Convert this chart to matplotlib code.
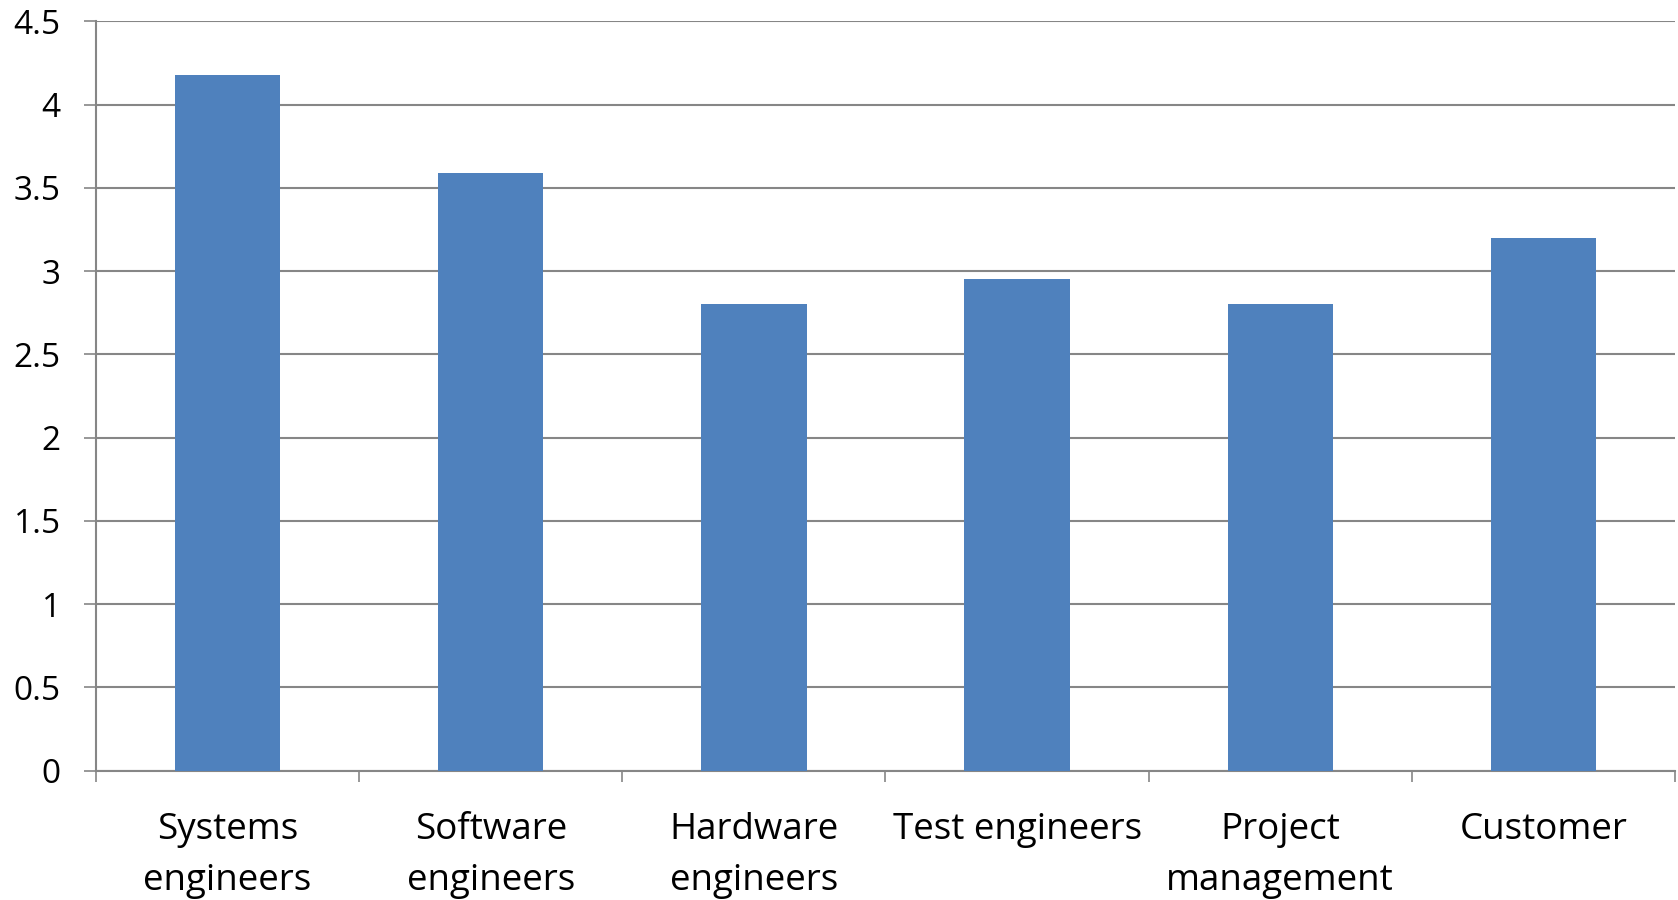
import matplotlib
matplotlib.use("Agg")
import matplotlib.pyplot as plt
import numpy as np

categories = ["Systems\nengineers", "Software\nengineers", "Hardware\nengineers",
              "Test engineers", "Project\nmanagement", "Customer"]
values = [4.18, 3.59, 2.8, 2.95, 2.8, 3.2]
yticks = [0, 0.5, 1, 1.5, 2, 2.5, 3, 3.5, 4, 4.5]
ytick_labels = ["0", "0.5", "1", "1.5", "2", "2.5", "3", "3.5", "4", "4.5"]

plt.rcParams['font.family'] = ['Open Sans', 'DejaVu Sans']

fig = plt.figure(figsize=(16.78, 9), dpi=100)
ax = fig.add_axes([96/1678, 1-770.6/900, (1675-96)/1678, (770.6-21.4)/900])

x = np.arange(len(categories))
ax.bar(x, values, width=0.4, color="#4F81BD", zorder=3)

ax.set_xlim(-0.5, len(categories)-0.5)
ax.set_ylim(0, 4.5)
ax.set_yticks(yticks)
ax.set_yticklabels(ytick_labels)
ax.yaxis.grid(True, color="#868686", linewidth=1.5, zorder=0)
ax.set_axisbelow(True)

ax.set_xticks(x)
ax.set_xticklabels(categories, linespacing=1.56)
ax.set_xticks(np.arange(-0.5, len(categories), 1.0), minor=True)
ax.tick_params(axis='x', which='major', length=0, pad=29.5, labelsize=26.5)
ax.tick_params(axis='x', which='minor', length=8, width=1.2, color="#868686", direction='out')
ax.tick_params(axis='y', length=8.4, width=1.2, color="#868686", pad=17, labelsize=24)

for s in ['top', 'right']:
    ax.spines[s].set_visible(False)
for s in ['left', 'bottom']:
    ax.spines[s].set_color("#868686")
    ax.spines[s].set_linewidth(1.5)

fig.savefig("out.png", dpi=100)
